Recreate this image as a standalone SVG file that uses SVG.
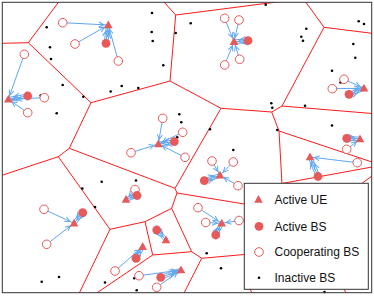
<svg xmlns="http://www.w3.org/2000/svg" xmlns:xlink="http://www.w3.org/1999/xlink" width="374" height="296" viewBox="0 0 374 296">
<style>
.vor line{stroke:#ff1a1a;stroke-width:1;fill:none}
.dot{fill:#000}
.arr line{stroke:#5ea8f2;stroke-width:1;fill:none}
.a{marker-end:url(#mA)}
.b{marker-end:url(#mB)}
.c{marker-end:url(#mC)}
.coop{fill:#fff;stroke:#e85a5a;stroke-width:1}
.abs{fill:#e85a5a}
.ue{fill:#e85a5a}
.lt{font-family:"Liberation Sans",Arial,sans-serif;font-size:12px;fill:#111}
</style>
<defs>
<marker id="mA" markerUnits="userSpaceOnUse" markerWidth="20" markerHeight="8" refX="9.5" refY="2.5" orient="auto" overflow="visible"><path d="M0,0 L5,2.5 L0,5" fill="none" stroke="#5ea8f2" stroke-width="1"/></marker>
<marker id="mB" markerUnits="userSpaceOnUse" markerWidth="20" markerHeight="8" refX="11.5" refY="2.5" orient="auto" overflow="visible"><path d="M0,0 L5,2.5 L0,5" fill="none" stroke="#5ea8f2" stroke-width="1"/></marker>
<marker id="mC" markerUnits="userSpaceOnUse" markerWidth="20" markerHeight="8" refX="13.5" refY="2.5" orient="auto" overflow="visible"><path d="M0,0 L5,2.5 L0,5" fill="none" stroke="#5ea8f2" stroke-width="1"/></marker>
<path id="tri" d="M0,-4.6 L4.3,3.2 L-4.3,3.2Z"/>
<clipPath id="fr"><rect x="2.3" y="2.3" width="369.4" height="290.4"/></clipPath>
</defs>
<rect width="374" height="296" fill="#fff"/>
<g id="voronoi" class="vor" clip-path="url(#fr)">
<line x1="58.7" y1="2" x2="28.3" y2="42.7"/>
<line x1="28.3" y1="42.7" x2="2" y2="43.3"/>
<line x1="28.3" y1="42.7" x2="91" y2="102.7"/>
<line x1="91" y1="102.7" x2="170" y2="81"/>
<line x1="91" y1="102.7" x2="69.3" y2="148.3"/>
<line x1="170" y1="81" x2="175.7" y2="15"/>
<line x1="175.7" y1="15" x2="164" y2="2"/>
<line x1="175.7" y1="15" x2="277" y2="2"/>
<line x1="170" y1="81" x2="221" y2="108.3"/>
<line x1="221" y1="108.3" x2="271.7" y2="112"/>
<line x1="221" y1="108.3" x2="175" y2="188.3"/>
<line x1="271.7" y1="112" x2="282" y2="106"/>
<line x1="282" y1="106" x2="324" y2="27.3"/>
<line x1="324" y1="27.3" x2="305.7" y2="2"/>
<line x1="324" y1="27.3" x2="372" y2="33.3"/>
<line x1="282" y1="106" x2="372" y2="113.5"/>
<line x1="271.7" y1="112" x2="279" y2="131"/>
<line x1="279" y1="131" x2="372" y2="162"/>
<line x1="279" y1="131" x2="282" y2="184"/>
<line x1="283" y1="183.3" x2="372" y2="167"/>
<line x1="362" y1="183.3" x2="372" y2="176"/>
<line x1="69.3" y1="148.3" x2="58.3" y2="156.7"/>
<line x1="58.3" y1="156.7" x2="2" y2="175.3"/>
<line x1="58.3" y1="156.7" x2="110" y2="229.3"/>
<line x1="69.3" y1="148.3" x2="175" y2="188.3"/>
<line x1="175" y1="188.3" x2="177" y2="193"/>
<line x1="177" y1="193" x2="244.3" y2="204"/>
<line x1="177" y1="193" x2="171.7" y2="208.3"/>
<line x1="171.7" y1="208.3" x2="145" y2="221.7"/>
<line x1="145" y1="221.7" x2="110" y2="229.3"/>
<line x1="110" y1="229.3" x2="79.3" y2="293"/>
<line x1="145" y1="221.7" x2="152.7" y2="255"/>
<line x1="152.7" y1="255" x2="191.7" y2="251.7"/>
<line x1="152.7" y1="255" x2="96.7" y2="293"/>
<line x1="171.7" y1="208.3" x2="191.7" y2="251.7"/>
<line x1="191.7" y1="251.7" x2="201.7" y2="258.3"/>
<line x1="201.7" y1="258.3" x2="244.3" y2="254.5"/>
<line x1="201.7" y1="258.3" x2="184" y2="293"/>
<line x1="250" y1="289" x2="252" y2="293"/>
<line x1="344" y1="289" x2="346" y2="293"/>
</g>
<g id="inactive-bs" class="dot">
<circle cx="46.7" cy="27.3" r="1.3"/><circle cx="50" cy="47.3" r="1.3"/><circle cx="51" cy="59" r="1.3"/>
<circle cx="152" cy="13" r="1.3"/><circle cx="151.7" cy="32" r="1.3"/><circle cx="152.7" cy="41" r="1.3"/>
<circle cx="163.3" cy="65.3" r="1.3"/><circle cx="175.7" cy="33" r="1.3"/><circle cx="62.7" cy="85" r="1.3"/>
<circle cx="83.3" cy="96.7" r="1.3"/><circle cx="56.7" cy="113.3" r="1.3"/><circle cx="110.7" cy="91.5" r="1.3"/>
<circle cx="121.7" cy="86" r="1.3"/><circle cx="138.3" cy="88" r="1.3"/><circle cx="179.3" cy="114.2" r="1.3"/>
<circle cx="181.3" cy="122.3" r="1.3"/><circle cx="177.2" cy="137.3" r="1.3"/><circle cx="40.7" cy="95.5" r="1.3"/>
<circle cx="190.7" cy="23.3" r="1.3"/><circle cx="265.7" cy="4.7" r="1.3"/><circle cx="306.3" cy="28.7" r="1.3"/>
<circle cx="301.3" cy="36.7" r="1.3"/><circle cx="303" cy="40.7" r="1.3"/><circle cx="358.7" cy="21.3" r="1.3"/>
<circle cx="364" cy="24" r="1.3"/><circle cx="353.3" cy="44" r="1.3"/><circle cx="355.3" cy="57.7" r="1.3"/>
<circle cx="332" cy="70.7" r="1.3"/><circle cx="340.5" cy="82.5" r="1.3"/><circle cx="271.3" cy="103.3" r="1.3"/>
<circle cx="272.3" cy="107.7" r="1.3"/><circle cx="305" cy="105.7" r="1.3"/><circle cx="277.3" cy="130" r="1.3"/>
<circle cx="332" cy="125.5" r="1.3"/><circle cx="210" cy="129.3" r="1.3"/><circle cx="233.3" cy="150" r="1.3"/>
<circle cx="101.7" cy="181.7" r="1.3"/><circle cx="136" cy="180.5" r="1.3"/><circle cx="82.3" cy="188.5" r="1.3"/>
<circle cx="95" cy="207" r="1.3"/><circle cx="41.7" cy="281.7" r="1.3"/><circle cx="59" cy="277" r="1.3"/>
<circle cx="105" cy="282.5" r="1.3"/><circle cx="136.7" cy="290.3" r="1.3"/><circle cx="134.3" cy="278.3" r="1.3"/>
<circle cx="206.7" cy="253.3" r="1.3"/><circle cx="221" cy="268.3" r="1.3"/><circle cx="324.5" cy="292" r="1.3"/>
</g>
<g id="connectors" class="arr">
<!-- group 1 -->
<line class="a" x1="62.7" y1="22.7" x2="108.3" y2="25"/>
<line class="a" x1="75" y1="44" x2="108.3" y2="25"/>
<line class="a" x1="118.3" y1="61" x2="108.3" y2="25"/>
<line class="b" x1="104.2" y1="43.1" x2="106.5" y2="24.8"/>
<line class="a" x1="106" y1="43.3" x2="108.3" y2="25"/>
<line class="c" x1="107.8" y1="43.5" x2="110.1" y2="25.2"/>
<!-- group 2 -->
<line class="a" x1="24.3" y1="54.3" x2="8.3" y2="99.3"/>
<line class="a" x1="44.3" y1="97.7" x2="8.3" y2="99.3"/>
<line class="a" x1="27.7" y1="112.7" x2="8.3" y2="99.3"/>
<line class="b" x1="27.4" y1="94.2" x2="8" y2="97.5"/>
<line class="a" x1="27.7" y1="96" x2="8.3" y2="99.3"/>
<line class="c" x1="28" y1="97.8" x2="8.6" y2="101.1"/>
<!-- group 3 -->
<line class="a" x1="162.7" y1="118.3" x2="158.3" y2="144"/>
<line class="a" x1="182.7" y1="132.3" x2="158.3" y2="144"/>
<line class="a" x1="131" y1="152.7" x2="158.3" y2="144"/>
<line class="a" x1="185" y1="157.3" x2="158.3" y2="144"/>
<line class="b" x1="174" y1="139.9" x2="158" y2="142.2"/>
<line class="a" x1="174.3" y1="141.7" x2="158.3" y2="144"/>
<line class="c" x1="174.6" y1="143.5" x2="158.6" y2="145.8"/>
<!-- group 4 -->
<line class="a" x1="212" y1="161" x2="220" y2="175.3"/>
<line class="a" x1="233.3" y1="162" x2="220" y2="175.3"/>
<line class="a" x1="238" y1="185.7" x2="220" y2="175.3"/>
<line class="b" x1="203.7" y1="179" x2="219.4" y2="173.6"/>
<line class="a" x1="204.3" y1="180.7" x2="220" y2="175.3"/>
<line class="c" x1="204.9" y1="182.4" x2="220.6" y2="177"/>
<!-- group 5 -->
<line class="a" x1="135" y1="189.5" x2="126" y2="199.5"/>
<line class="b" x1="136.4" y1="193.8" x2="125.4" y2="197.8"/>
<line class="a" x1="137" y1="195.5" x2="126" y2="199.5"/>
<line class="c" x1="137.6" y1="197.2" x2="126.6" y2="201.2"/>
<!-- group 6 -->
<line class="b" x1="158" y1="228.8" x2="167.3" y2="238.8"/>
<line class="a" x1="156.7" y1="230" x2="166" y2="240"/>
<line class="c" x1="155.4" y1="231.2" x2="164.7" y2="241.2"/>
<!-- group 7 -->
<line class="a" x1="115" y1="271" x2="142.7" y2="246.7"/>
<line class="b" x1="134.4" y1="257.4" x2="141.1" y2="245.8"/>
<line class="a" x1="136" y1="258.3" x2="142.7" y2="246.7"/>
<line class="c" x1="137.6" y1="259.2" x2="144.3" y2="247.6"/>
<!-- group 8 -->
<line class="a" x1="139" y1="275.7" x2="181" y2="270"/>
<line class="a" x1="156.7" y1="287.3" x2="181" y2="270"/>
<line class="b" x1="160.1" y1="275.6" x2="180.4" y2="268.3"/>
<line class="a" x1="160.7" y1="277.3" x2="181" y2="270"/>
<line class="c" x1="161.3" y1="279" x2="181.6" y2="271.7"/>
<!-- group 9 -->
<line class="a" x1="198" y1="207.7" x2="221.7" y2="223.3"/>
<line class="a" x1="205.7" y1="222.5" x2="221.7" y2="223.3"/>
<line class="a" x1="239" y1="220.5" x2="221.7" y2="223.3"/>
<line class="b" x1="214.1" y1="234.2" x2="220.1" y2="222.5"/>
<line class="a" x1="215.7" y1="235" x2="221.7" y2="223.3"/>
<line class="c" x1="217.3" y1="235.8" x2="223.3" y2="224.1"/>
<!-- group 10 -->
<line class="a" x1="44" y1="209.3" x2="74" y2="223.3"/>
<line class="a" x1="46.7" y1="244.3" x2="74" y2="223.3"/>
<line class="b" x1="81.3" y1="211.6" x2="72.6" y2="222.2"/>
<line class="a" x1="82.7" y1="212.7" x2="74" y2="223.3"/>
<line class="c" x1="84.1" y1="213.8" x2="75.4" y2="224.4"/>
<!-- group 11 -->
<line class="a" x1="224.7" y1="18.3" x2="234" y2="41.7"/>
<line class="a" x1="239" y1="20" x2="234" y2="41.7"/>
<line class="a" x1="224.7" y1="65" x2="234" y2="41.7"/>
<line class="a" x1="239.7" y1="59.3" x2="234" y2="41.7"/>
<line class="b" x1="247.9" y1="38.9" x2="233.9" y2="39.9"/>
<line class="a" x1="248" y1="40.7" x2="234" y2="41.7"/>
<line class="c" x1="248.1" y1="42.5" x2="234.1" y2="43.5"/>
<!-- group 12 -->
<line class="a" x1="344" y1="79.3" x2="364" y2="88.3"/>
<line class="a" x1="332.3" y1="88.7" x2="364" y2="88.3"/>
<line class="b" x1="348.3" y1="92.6" x2="363.3" y2="86.6"/>
<line class="a" x1="349" y1="94.3" x2="364" y2="88.3"/>
<line class="c" x1="349.7" y1="96" x2="364.7" y2="90"/>
<!-- group 13 -->
<line class="a" x1="346.7" y1="149.3" x2="360" y2="139"/>
<line class="b" x1="346.6" y1="136.5" x2="359.9" y2="137.2"/>
<line class="a" x1="346.7" y1="138.3" x2="360" y2="139"/>
<line class="c" x1="346.8" y1="140.1" x2="360.1" y2="140.8"/>
<!-- group 14 -->
<line class="a" x1="357.3" y1="162.7" x2="310" y2="157"/>
<line class="b" x1="316.3" y1="177.2" x2="308.3" y2="157.7"/>
<line class="a" x1="318" y1="176.5" x2="310" y2="157"/>
<line class="c" x1="319.7" y1="175.8" x2="311.7" y2="156.3"/>
</g>
<g id="cooperating-bs" class="coop">
<circle cx="62.7" cy="22.7" r="4.3"/><circle cx="75" cy="44" r="4.3"/><circle cx="118.3" cy="61" r="4.3"/>
<circle cx="24.3" cy="54.3" r="4.3"/><circle cx="44.3" cy="97.7" r="4.3"/><circle cx="27.7" cy="112.7" r="4.3"/>
<circle cx="162.7" cy="118.3" r="4.3"/><circle cx="182.7" cy="132.3" r="4.3"/><circle cx="131" cy="152.7" r="4.3"/><circle cx="185" cy="157.3" r="4.3"/>
<circle cx="212" cy="161" r="4.3"/><circle cx="233.3" cy="162" r="4.3"/><circle cx="238" cy="185.7" r="4.3"/>
<circle cx="135" cy="189.5" r="4.3"/>
<circle cx="115" cy="271" r="4.3"/>
<circle cx="139" cy="275.7" r="4.3"/><circle cx="156.7" cy="287.3" r="4.3"/>
<circle cx="198" cy="207.7" r="4.3"/><circle cx="205.7" cy="222.5" r="4.3"/><circle cx="239" cy="220.5" r="4.3"/>
<circle cx="44" cy="209.3" r="4.3"/><circle cx="46.7" cy="244.3" r="4.3"/>
<circle cx="224.7" cy="18.3" r="4.3"/><circle cx="239" cy="20" r="4.3"/><circle cx="224.7" cy="65" r="4.3"/><circle cx="239.7" cy="59.3" r="4.3"/>
<circle cx="344" cy="79.3" r="4.3"/><circle cx="332.3" cy="88.7" r="4.3"/>
<circle cx="346.7" cy="149.3" r="4.3"/>
<circle cx="357.3" cy="162.7" r="4.3"/>
</g>
<g id="active-bs" class="abs">
<circle cx="106" cy="43.3" r="4.4"/><circle cx="27.7" cy="96" r="4.4"/><circle cx="174.3" cy="141.7" r="4.4"/>
<circle cx="204.3" cy="180.7" r="4.4"/><circle cx="137" cy="195.5" r="4.4"/><circle cx="156.7" cy="230" r="4.4"/>
<circle cx="136" cy="258.3" r="4.4"/><circle cx="160.7" cy="277.3" r="4.4"/><circle cx="215.7" cy="235" r="4.4"/>
<circle cx="82.7" cy="212.7" r="4.4"/><circle cx="248" cy="40.7" r="4.4"/><circle cx="349" cy="94.3" r="4.4"/>
<circle cx="346.7" cy="138.3" r="4.4"/><circle cx="318" cy="176.5" r="4.4"/>
</g>
<g id="active-ue" class="ue">
<use xlink:href="#tri" x="108.3" y="25"/><use xlink:href="#tri" x="8.3" y="99.3"/><use xlink:href="#tri" x="158.3" y="144"/>
<use xlink:href="#tri" x="220" y="175.3"/><use xlink:href="#tri" x="126" y="199.5"/><use xlink:href="#tri" x="166" y="240"/>
<use xlink:href="#tri" x="142.7" y="246.7"/><use xlink:href="#tri" x="181" y="270"/><use xlink:href="#tri" x="221.7" y="223.3"/>
<use xlink:href="#tri" x="74" y="223.3"/><use xlink:href="#tri" x="234" y="41.7"/><use xlink:href="#tri" x="364" y="88.3"/>
<use xlink:href="#tri" x="360" y="139"/><use xlink:href="#tri" x="310" y="157"/>
</g>
<g id="legend">
<rect x="244.3" y="183.3" width="124" height="106" fill="#fff" stroke="#333" stroke-width="1"/>
<use xlink:href="#tri" x="258.5" y="199.5" class="ue"/>
<circle cx="259" cy="226.3" r="4.4" class="abs"/>
<circle cx="259" cy="252" r="4.3" class="coop"/>
<circle cx="259" cy="277.7" r="1.3" class="dot"/>
<text class="lt" x="274.5" y="204">Active UE</text>
<text class="lt" x="274.5" y="231">Active BS</text>
<text class="lt" x="274.5" y="256">Cooperating BS</text>
<text class="lt" x="274.5" y="281.5">Inactive BS</text>
</g>
<rect x="2.3" y="2.3" width="369.4" height="290.4" fill="none" stroke="#333" stroke-width="1"/>
</svg>
